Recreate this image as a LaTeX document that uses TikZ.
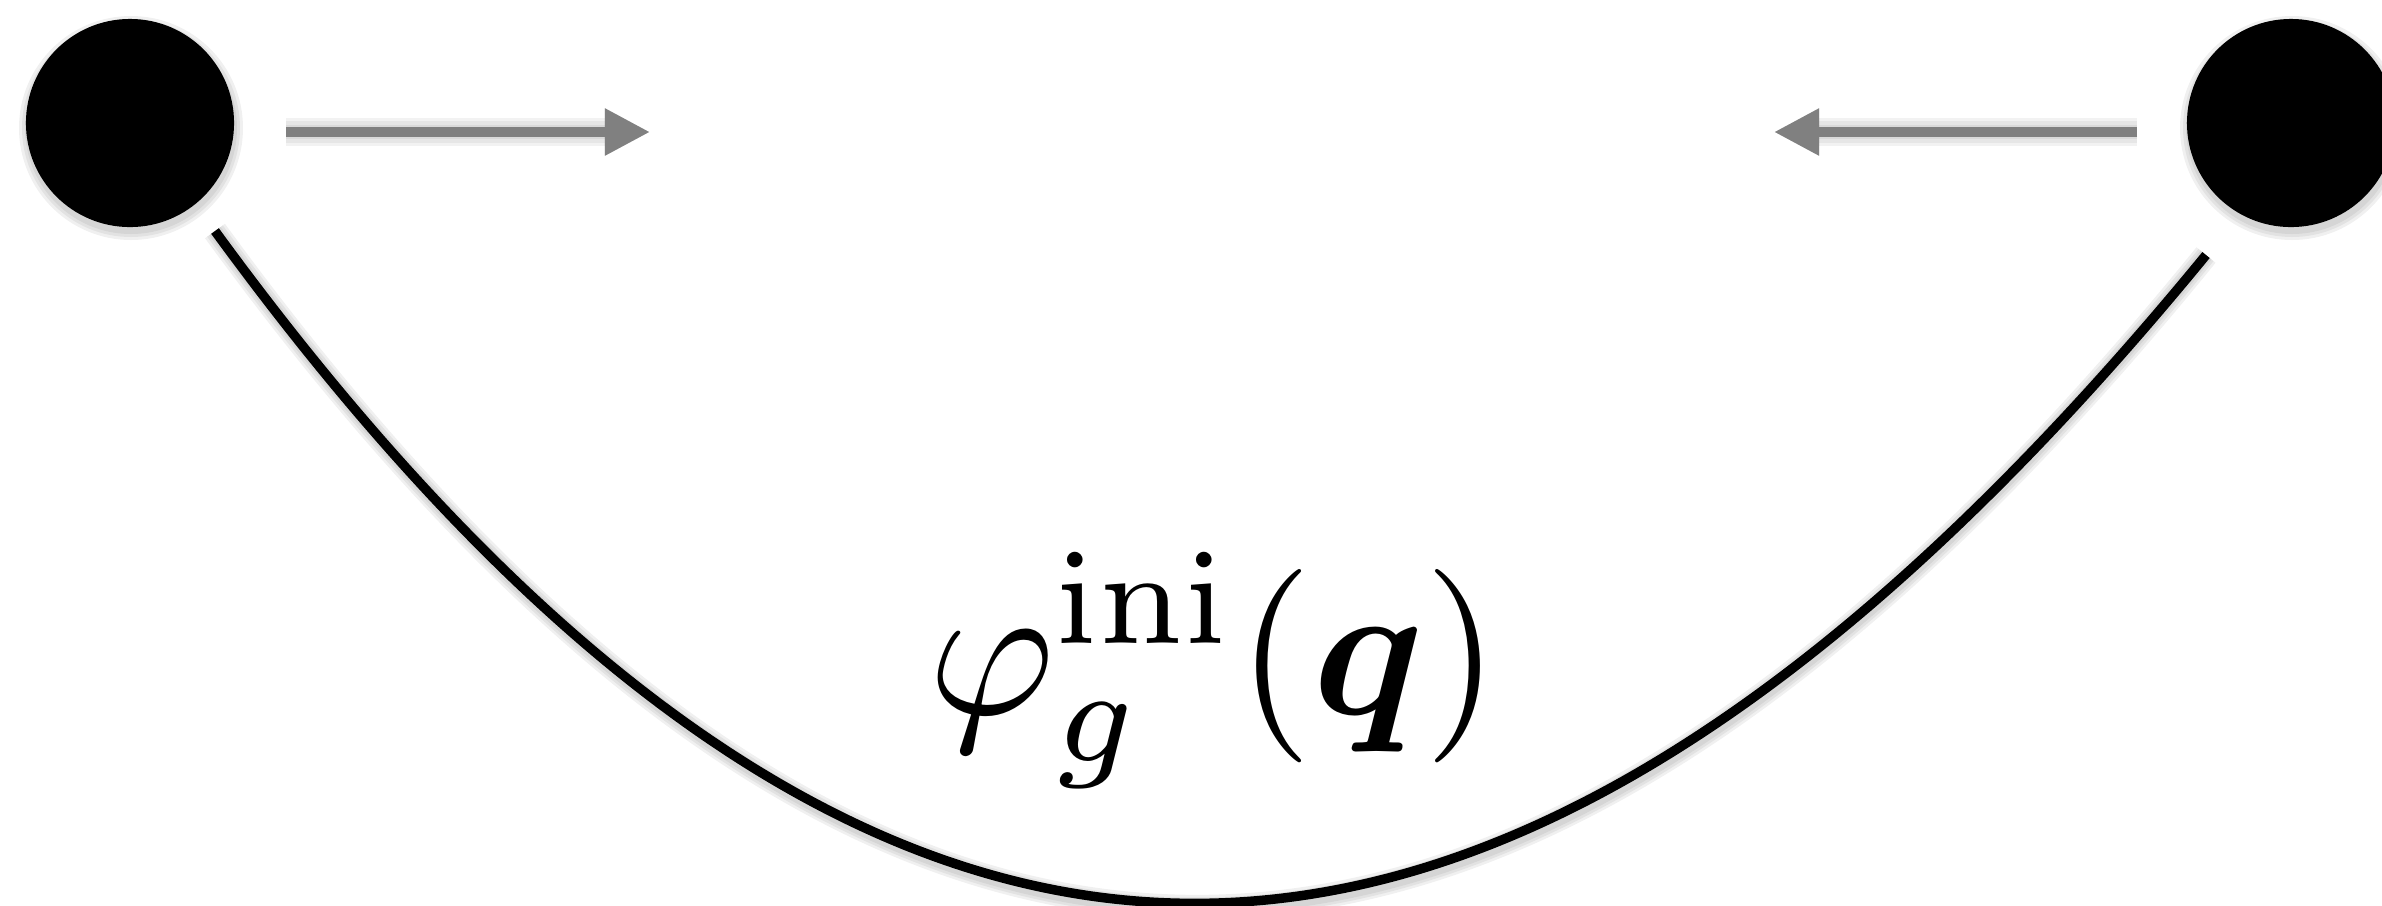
\documentclass[tikz,border=0pt]{standalone}
\usepackage{amsmath,amssymb,bm}
\usetikzlibrary{arrows.meta}
\definecolor{arrowgray}{HTML}{808080}
\tikzset{
  dot/.style={circle, fill=black, draw=none, minimum size=2.08cm, inner sep=0pt},
  dotshadow/.style={circle, fill=black, draw=none, inner sep=0pt, fill opacity=0.06},
  grayarrow/.style={draw=arrowgray, line width=3.1pt, -{Triangle[length=0.45cm, width=0.44cm]}},
  arrowshadow/.style={draw=black, draw opacity=0.05, fill=black, fill opacity=0.05, -{Triangle[length=0.45cm, width=0.44cm]}},
  bigcurve/.style={draw=black, line width=2.7pt},
  curveshadow/.style={draw=black, draw opacity=0.06},
  label/.style={scale=5.5, inner sep=0pt, anchor=base}
}
\begin{document}
\begin{tikzpicture}[x=0.01cm, y=-0.01cm]
\useasboundingbox (0,0) rectangle (2382,905);
% coordinates
\coordinate (a1s) at (286,132);
\coordinate (a1e) at (650,132);
\coordinate (a2s) at (2137,132);
\coordinate (a2e) at (1774,132);
\coordinate (c1) at (215,231);
\coordinate (c2) at (2206,255);
% soft shadows
\foreach \s in {112,109,106}{
  \node[dotshadow, minimum size=2*\s*0.01cm] at (131,128) {};
  \node[dotshadow, minimum size=2*\s*0.01cm] at (2292,128) {};
}
\begin{scope}[yshift=0.07cm]
\foreach \w in {8pt,6pt,4pt}{
  \draw[arrowshadow, line width=\w] (a1s) -- (a1e);
  \draw[arrowshadow, line width=\w] (a2s) -- (a2e);
}
\end{scope}
\begin{scope}[xshift=0.03cm, yshift=-0.05cm]
\foreach \w in {7pt,5.5pt,4pt}{
  \draw[curveshadow, line width=\w] (c1) .. controls (872,1131) and (1500,1116) .. (c2);
}
\end{scope}
% main drawing
\node[dot] (L) at (130,123) {};
\node[dot] (R) at (2291,123) {};
\draw[grayarrow] (a1s) -- (a1e);
\draw[grayarrow] (a2s) -- (a2e);
\draw[bigcurve] (c1) .. controls (872,1131) and (1500,1116) .. (c2);
\node[label] (lab) at (1214,714) {$\varphi_g^{\mathrm{ini}}(\bm{q})$};
\end{tikzpicture}
\end{document}
